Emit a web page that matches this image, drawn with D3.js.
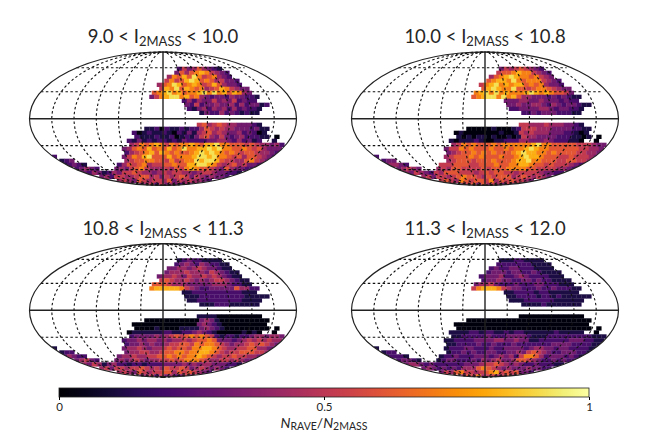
<!DOCTYPE html>
<html>
<head>
<meta charset="utf-8">
<script src="https://cdn.jsdelivr.net/npm/d3@7"></script>
<style>
  body { margin: 0; background: #fff; }
  text { font-family: Lato, "Open Sans", sans-serif; fill: #262626; }
</style>
</head>
<body>
<div id="chart"></div>
<script>
// map rows (top to bottom) and the column where each row starts
const rowIndex = [4,5,6,7,8,9,10,11,12,13,14,15,18,19,20,21,22,23,24,25,26,27,28,29,30,31,32,33];
const rowStart = [30,29,28,27,26,26,25,24,31,31,32,34,34,23,21,21,20,20,19,19,5,6,7,9,11,14,18,22];

// completeness, digit 0-9 = tenths, "." = no data
const cells1 = [
  "253464321","36467875432","4768697567432","575689867645332","46798678756864332",
  "587968767456875433","67897867789797868743","3578997867432332433221","242433534352322",
  "32523343342423312","213424342423221","132242321211",
  "5645654433321","1120211212246545443332311","201211210213145645433423201",
  "211121120121356435323422211.0","213121221213222233443242312..1",
  "4576787576778768897766656544342","34676867686797788989776676564333",
  "2456786876766789898767656654432",
  "2.............3576896668677789989776564665432",
  "123..........456677665756779899865544675432",
  "12321......246567455667668899875456453321",
  "23432...343567544454657876654364332212",
  "32431243556544345455443455433221","34255445664535456535434332",
  "4543654554635454432","34525343242"
];
const cells2 = [
  "354565432","56678775432","4678987767543","678879767775432","57897878867674332",
  "689877966567765433","78979787778987876653","6789979786443332323211","333443343332322",
  "33433443243233211","223333443233221","223233322211",
  "5544454443321","0000010001255544433332211","010000000100154544433322101",
  "101011010010154433332221101.0","101112100112224433343222110..0",
  "4576766676777777897766666555433","35576766676676778987766666655443",
  "3456676767666789887767666655443",
  "2.............4566676766676678988766655655543",
  "233..........456665666766678897766655665543",
  "34432......555666556667667788766565554322",
  "34543...454665555656667777665555443221",
  "43543254666555456566554555543322","45355456766546566645654543",
  "5654765665746565543","45636454353"
];
const cells3 = [
  "123221111","23432432211","3344345433211","344454443543211","34454354454543211",
  "565445434345543211","66654443333344432211","7888887543223333364422","112222222222111",
  "11122222222211111","112222222221111","111222111111",
  "1111000000000","0000000000034310000000000","000000000000034321000000000",
  "000010000111134321000000000.0","011111122112234321000001010..0",
  "2333343456567676521221223443443","23343443434454566763332345454544",
  "2334343345566576776543445656543",
  "1.............3445434456566577887654455664433",
  "122..........344554456677677887654556665543",
  "24322......344544556676767787654556554432",
  "34532...343454344556567776544554543322",
  "43541342212212223333434344333221","45355455654546556534543432",
  "4543654556646565432","34525342353"
];
const cells4 = [
  "111221111","22222221111","2322332221111","233323322321111","23334223432222111",
  "233433223323221111","34453222322233222111","5788875433222322322211","112222122111111",
  "11222212212111111","111222222111111","111121111111",
  "0000000000000","0000000000000000000000000","000000000000000000000000000",
  "000000000000000000000000000.0","111122122112122111111211111..0",
  "1122222322233332111222222222111","11222233334433433112222223332211",
  "1122223223222322222223333222211",
  "1.............1222332223223333234433233222211",
  "122..........122323223322334356543223332211",
  "12221......122322233323434257764233323211",
  "23321...123322232434533466543223232211",
  "34432322222233345565434322322211","34323232444676543433343322",
  "3546755456785656332","46574554564"
];
const allCells = [cells1, cells2, cells3, cells4];

const titleLow = ["9.0", "10.0", "10.8", "11.3"];
const titleHigh = ["10.0", "10.8", "11.3", "12.0"];
const meridians = [-150, -120, -90, -60, -30, 30, 60, 90, 120, 150];
const parallels = [-60, -30, 30, 60];
const barTicks = [0, 0.5, 1];

const width = 665, height = 446;
const centers = [[163, 118.7], [485, 118.7], [163, 310.3], [485, 310.3]];
const rx = 133.5, ry = 66.7;

// d3 core has no mollweide, so write the raw function for d3.geoProjection
function mollweideRaw(lambda, phi) {
    let theta = phi;
    if (Math.abs(Math.abs(phi) - Math.PI / 2) < 1e-6) {
        theta = phi;
    } else {
        for (let i = 0; i < 30; i++) {
            let delta = (2 * theta + Math.sin(2 * theta) - Math.PI * Math.sin(phi)) / (2 + 2 * Math.cos(2 * theta));
            theta -= delta;
            if (Math.abs(delta) < 1e-7) break;
        }
    }
    return [2 * Math.SQRT2 / Math.PI * lambda * Math.cos(theta), Math.SQRT2 * Math.sin(theta)];
}

const projection = d3.geoProjection(mollweideRaw)
    .scale(rx / (2 * Math.SQRT2))
    .translate([0, 0])
    .precision(0.3);
const geoPath = d3.geoPath(projection);

const color = d3.scaleSequential(d3.interpolateInferno).domain([0, 1]);
const xCell = d3.scaleBand().domain(d3.range(54)).range([-135, 135]);
const yCell = d3.scaleBand().domain(d3.range(34)).range([-68, 68]);

let svg = d3.select("#chart")
    .append("svg")
    .attr("width", width)
    .attr("height", height);

let defs = svg.append("defs");
defs.append("clipPath").attr("id", "sky")
    .append("ellipse").attr("rx", rx).attr("ry", ry);
defs.append("filter").attr("id", "soft")
    .attr("x", "-5%").attr("y", "-5%").attr("width", "110%").attr("height", "110%")
    .append("feGaussianBlur").attr("stdDeviation", 0.45);

function meridianLine(lon) {
    return {type: "LineString", coordinates: d3.range(-90, 90.5, 5).map(function(lat) { return [lon, lat]; })};
}
function parallelLine(lat) {
    return {type: "LineString", coordinates: d3.range(-179.9, 180, 10).map(function(lon) { return [lon, lat]; })};
}

centers.forEach(function(c, p) {
    let g = svg.append("g").attr("transform", `translate(${c[0]}, ${c[1]})`);

    // one rect per map cell
    let cells = [];
    allCells[p].forEach(function(row, r) {
        row.split("").forEach(function(ch, k) {
            if (ch !== ".") {
                cells.push({row: rowIndex[r], col: rowStart[r] + k, value: +ch * 0.1 + 0.02});
            }
        });
    });

    // odd rows sit half a cell over, like the sky pixels in the original
    let shift = xCell.bandwidth() / 4;

    g.append("g").attr("clip-path", "url(#sky)")
        .append("g").attr("filter", "url(#soft)")
        .selectAll("rect")
        .data(cells)
        .enter()
        .append("rect")
        .attr("x", function(d) { return xCell(d.col) + (d.row % 2 ? shift : -shift); })
        .attr("y", function(d) { return yCell(d.row); })
        .attr("width", xCell.bandwidth() + 0.3)
        .attr("height", yCell.bandwidth() + 0.3)
        .attr("fill", function(d) { return color(d.value); });

    // dashed graticule
    g.selectAll("path.grid")
        .data(meridians.map(meridianLine).concat(parallels.map(parallelLine)))
        .enter()
        .append("path")
        .attr("class", "grid")
        .attr("d", geoPath)
        .attr("fill", "none")
        .attr("stroke", "#111")
        .attr("stroke-width", 1.1)
        .attr("stroke-dasharray", "2.5,2.4");

    // equator, central meridian, outline
    g.append("line").attr("x1", -rx).attr("x2", rx)
        .attr("stroke", "#222").attr("stroke-width", 1.4);
    g.append("line").attr("y1", -ry).attr("y2", ry)
        .attr("stroke", "#222").attr("stroke-width", 1.4);
    g.append("ellipse").attr("rx", rx).attr("ry", ry)
        .attr("fill", "none").attr("stroke", "#222").attr("stroke-width", 1.2);

    let title = g.append("text")
        .attr("y", -ry - 9)
        .style("text-anchor", "middle")
        .style("font-size", "18.5px");
    title.append("tspan").text(`${titleLow[p]} < I`);
    title.append("tspan").attr("dy", 3).style("font-size", "13px").text("2MASS");
    title.append("tspan").attr("dy", -3).text(` < ${titleHigh[p]}`);
});

// colour bar
let barX = d3.scaleLinear().domain([0, 1]).range([59, 589]);
let barY = 388, barH = 9;

let grad = defs.append("linearGradient").attr("id", "inferno");
grad.selectAll("stop")
    .data(d3.range(0, 1.001, 0.05))
    .enter()
    .append("stop")
    .attr("offset", function(d) { return d; })
    .attr("stop-color", function(d) { return color(d); });

svg.append("rect")
    .attr("x", barX(0)).attr("y", barY)
    .attr("width", barX(1) - barX(0)).attr("height", barH)
    .attr("fill", "url(#inferno)")
    .attr("stroke", "#222").attr("stroke-width", 0.8);

let barAxis = svg.append("g")
    .attr("transform", `translate(0, ${barY + barH})`)
    .call(d3.axisBottom(barX).tickValues(barTicks).tickSize(3).tickSizeOuter(0).tickFormat(d3.format("")));
barAxis.select(".domain").remove();
barAxis.selectAll("text").style("font-size", "11.5px").style("fill", "#262626").style("font-family", "Lato, sans-serif");

let label = svg.append("text")
    .attr("x", barX(0.5)).attr("y", 428)
    .style("text-anchor", "middle")
    .style("font-size", "14px");
label.append("tspan").style("font-style", "italic").text("N");
label.append("tspan").attr("dy", 2).style("font-size", "10.5px").text("RAVE");
label.append("tspan").attr("dy", -2).text("/");
label.append("tspan").style("font-style", "italic").text("N");
label.append("tspan").attr("dy", 2).style("font-size", "10.5px").text("2MASS");
</script>
</body>
</html>
